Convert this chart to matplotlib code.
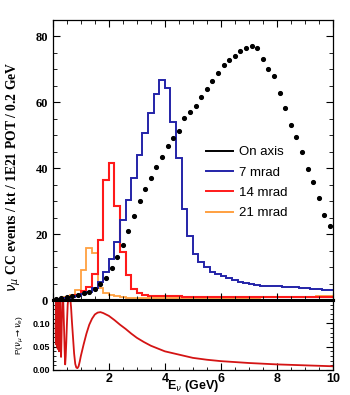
import matplotlib
matplotlib.use("Agg")
import matplotlib.pyplot as plt
from matplotlib.lines import Line2D
from matplotlib.ticker import MultipleLocator
import numpy as np

# 0.2 GeV bins, 0 - 10 GeV
bin_edges = np.linspace(0, 10, 51)
bin_centers = 0.5 * (bin_edges[:-1] + bin_edges[1:])

# events per bin
on_axis = [0.2, 0.5, 0.8, 1.2, 1.6, 2.0, 2.4, 3.4, 4.8, 6.6,
           9.6, 13.1, 16.8, 21.0, 25.6, 30.0, 33.7, 37.1, 40.5, 43.3,
           46.6, 49.1, 51.4, 55.1, 57.2, 59.0, 61.6, 64.2, 66.6, 68.9,
           71.4, 72.8, 74.0, 75.7, 76.4, 77.2, 76.5, 73.2, 70.1, 68.0,
           62.8, 58.3, 53.1, 49.4, 45.0, 39.8, 35.9, 30.9, 25.8, 22.4]
mrad7 = [0.1, 0.3, 0.5, 0.8, 1.2, 1.7, 2.4, 3.5, 5.5, 8.5,
         12.5, 17.7, 24.3, 30.5, 37.0, 44.0, 50.8, 56.9, 62.5, 66.9,
         64.5, 54.0, 43.0, 27.5, 19.4, 14.0, 11.6, 9.9, 8.5, 8.0,
         7.4, 6.6, 6.1, 5.6, 5.3, 4.9, 4.6, 4.4, 4.3, 4.2,
         4.1, 4.0, 3.9, 3.8, 3.7, 3.5, 3.4, 3.2, 3.1, 3.0]
mrad14 = [0.0, 0.2, 0.5, 1.0, 1.6, 2.8, 4.0, 8.0, 18.3, 36.4,
          41.7, 28.6, 14.6, 7.5, 3.2, 2.0, 1.5, 1.3, 1.2, 1.2,
          1.1, 1.1, 1.1, 1.0, 1.0, 1.0, 1.0, 1.0, 1.0, 1.0,
          1.0, 1.0, 1.0, 1.0, 1.0, 1.0, 1.0, 1.0, 1.0, 1.0,
          1.0, 1.0, 1.0, 1.0, 1.0, 1.0, 1.0, 1.0, 1.0, 1.0]
mrad21 = [0.0, 0.3, 0.8, 1.6, 3.0, 9.0, 15.9, 14.3, 3.5, 2.2,
          1.6, 1.2, 0.9, 0.7, 0.6, 0.5, 0.5, 0.5, 0.5, 0.5,
          0.5, 0.5, 0.5, 0.5, 0.5, 0.5, 0.5, 0.5, 0.5, 0.5,
          0.5, 0.6, 0.6, 0.6, 0.7, 0.7, 0.7, 0.8, 0.8, 0.8,
          0.9, 0.9, 0.9, 1.0, 1.0, 1.0, 1.0, 1.1, 1.1, 1.1]

# oscillation probability
prob_energy = [0.100, 0.110, 0.117, 0.126, 0.135, 0.147, 0.160, 0.176, 0.196, 0.220,
               0.250, 0.270, 0.293, 0.310, 0.330, 0.350, 0.370, 0.400, 0.420, 0.440,
               0.460, 0.480, 0.500, 0.530, 0.560, 0.590, 0.620, 0.650, 0.680, 0.720,
               0.760, 0.800, 0.840, 0.880, 0.920, 0.960, 1.00, 1.10, 1.20, 1.30,
               1.40, 1.50, 1.60, 1.70, 1.80, 2.00, 2.20, 2.40, 2.60, 2.80,
               3.00, 3.25, 3.50, 3.75, 4.00, 4.50, 5.00, 5.50, 6.00, 6.50,
               7.00, 7.50, 8.00, 8.50, 9.00, 9.50, 10.0]
prob_value = [0.100, 0.055, 0.160, 0.055, 0.160, 0.050, 0.160, 0.045, 0.160, 0.040,
              0.160, 0.100, 0.028, 0.070, 0.135, 0.160, 0.150, 0.090, 0.045, 0.012,
              0.030, 0.060, 0.095, 0.140, 0.158, 0.162, 0.155, 0.135, 0.105, 0.070,
              0.035, 0.013, 0.005, 0.004, 0.008, 0.018, 0.030, 0.055, 0.078, 0.097,
              0.110, 0.119, 0.123, 0.124, 0.122, 0.116, 0.107, 0.097, 0.088, 0.078,
              0.069, 0.060, 0.052, 0.046, 0.040, 0.033, 0.026, 0.022, 0.019, 0.017,
              0.015, 0.0135, 0.012, 0.011, 0.010, 0.009, 0.008]

labels = ["On axis", "7 mrad", "14 mrad", "21 mrad"]
colors = ["black", "#2424a8", "#ff1a1a", "#ffa040"]

fig = plt.figure(figsize=(3.5, 3.95), dpi=100)
ax = fig.add_axes([0.151, 0.2405, 0.80, 0.7089])
ax2 = fig.add_axes([0.151, 0.0633, 0.80, 0.1772])

# top panel: spectra
ax.stairs(mrad21, bin_edges, color=colors[3], lw=1.3, baseline=None)
ax.stairs(mrad14, bin_edges, color=colors[2], lw=1.5, baseline=None)
ax.stairs(mrad7, bin_edges, color=colors[1], lw=1.4, baseline=None)
ax.plot(bin_centers, on_axis, "o", color="black", ms=2.7, clip_on=False)

ax.set_xlim(0, 10)
ax.set_ylim(0, 85)
ax.xaxis.set_major_locator(MultipleLocator(2))
ax.xaxis.set_minor_locator(MultipleLocator(0.5))
ax.yaxis.set_major_locator(MultipleLocator(20))
ax.yaxis.set_minor_locator(MultipleLocator(5))
ax.tick_params(which="both", direction="in", top=True, right=True, labelbottom=False)
ax.tick_params(which="major", length=5, width=0.8)
ax.tick_params(which="minor", length=3, width=0.6)
for lab in ax.get_yticklabels():
    lab.set_family("Liberation Serif")
    lab.set_fontsize(9)
    lab.set_fontweight("bold")
for s in ax.spines.values():
    s.set_linewidth(0.9)
ax.spines["bottom"].set_linewidth(2.2)

ax.set_ylabel(r"$\nu_\mu$ CC events / kt / 1E21 POT / 0.2 GeV",
              family="Liberation Serif", fontsize=9.8, fontweight="bold")
ax.yaxis.set_label_coords(-0.108, 0.44)

handles = [Line2D([], [], color=c, lw=1.4) for c in colors]
ax.legend(handles, labels, frameon=False, loc="upper left",
          bbox_to_anchor=(0.548, 0.55), borderpad=0, borderaxespad=0,
          handlelength=2.0, handletextpad=0.45, labelspacing=0.62,
          prop={"family": "Liberation Sans", "size": 9.5})

# bottom panel: oscillation probability
ax2.plot(prob_energy, prob_value, color="#d41414", lw=1.3)
ax2.set_xlim(0, 10)
ax2.set_ylim(0, 0.15)
ax2.set_xticks([2, 4, 6, 8, 10])
ax2.xaxis.set_minor_locator(MultipleLocator(0.5))
ax2.set_yticks([0.0, 0.05, 0.10])
ax2.yaxis.set_minor_locator(MultipleLocator(0.01))
ax2.set_yticklabels(["0.00", "0.05", "0.10"])
ax2.tick_params(which="both", direction="in", right=True)
ax2.tick_params(which="major", length=5, width=0.8, pad=2)
ax2.tick_params(which="minor", length=2.5, width=0.6)
for lab in ax2.get_xticklabels():
    lab.set_family("Liberation Sans")
    lab.set_fontsize(9)
    lab.set_fontweight("bold")
for lab in ax2.get_yticklabels():
    lab.set_family("Liberation Sans")
    lab.set_fontsize(6.5)
    lab.set_fontweight("bold")
for s in ax2.spines.values():
    s.set_linewidth(0.9)
ax2.spines["top"].set_linewidth(2.2)

ax2.set_xlabel(r"E$_\nu$ (GeV)", family="Liberation Sans", fontsize=9,
               fontweight="bold")
ax2.xaxis.set_label_coords(0.5, -0.11)
ax2.set_ylabel(r"P($\nu_\mu\rightarrow\nu_e$)", family="Liberation Sans",
               fontsize=6)
ax2.yaxis.set_label_coords(-0.095, 0.5)

fig.savefig("out.png", dpi=100)
